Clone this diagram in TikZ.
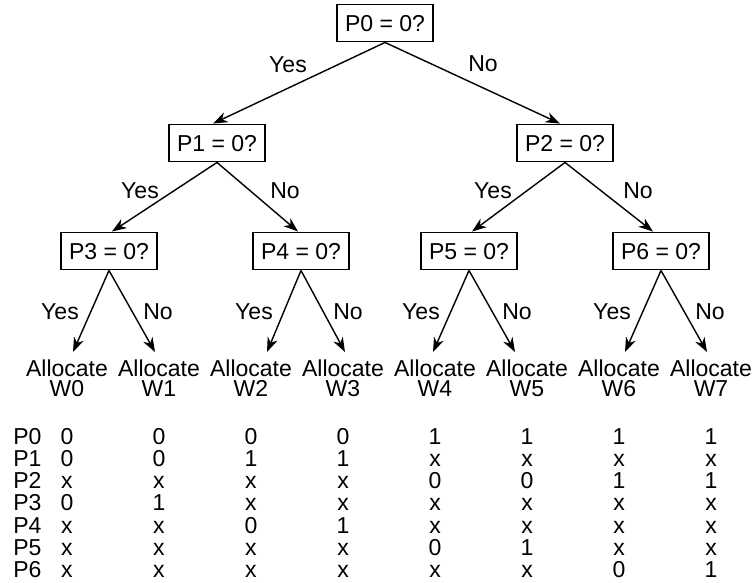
\documentclass[tikz,border=0pt]{standalone}
\usepackage{fontspec}
\setmainfont{Liberation Sans}
\usetikzlibrary{arrows.meta}
\tikzset{
  test/.style={draw=black,line width=1.1pt,minimum width=1.92cm,minimum height=0.74cm,
    inner sep=0pt,text height=0.33cm,text depth=0pt},
  branch/.style={draw=black,line width=0.8pt,-{Stealth[length=0.29cm,width=0.21cm,inset=0.09cm]}},
  leaf/.style={anchor=north,align=center,inner sep=0.14cm,font=\fontsize{13.1}{11.9}\selectfont},
  ans/.style={midway,inner sep=0pt,text height=0.33cm,text depth=0pt},
}
\tikzset{cell/.style={inner sep=0pt,text height=0.33cm,text depth=0pt}, rowlab/.style={cell,anchor=west}}

\begin{document}
\begin{tikzpicture}[x=0.02cm,y=-0.02cm,font=\fontsize{13.1}{15}\selectfont]
\useasboundingbox (0,0) rectangle (753,582);
% decision boxes
\node[test] (p0) at (385,23) {P0 = 0?};
\node[test] (p1) at (217,143) {P1 = 0?};
\node[test] (p2) at (565,143) {P2 = 0?};
\node[test] (p3) at (109,251) {P3 = 0?};
\node[test] (p4) at (301,251) {P4 = 0?};
\node[test] (p5) at (469,251) {P5 = 0?};
\node[test] (p6) at (661,251) {P6 = 0?};
% leaves
\foreach \k in {0,...,7}
  \node[leaf] (w\k) at (67+92*\k,352) {Allocate\\W\k};
% branches
\draw[branch] (p0.south) -- node[ans,xshift=-0.22cm,yshift=0.38cm] {Yes} ([xshift=-0.08cm]p1.north);
\draw[branch] (p0.south) -- node[ans,xshift=0.21cm,yshift=0.4cm] {No} ([xshift=-0.1cm]p2.north);
\draw[branch] (p1.south) -- node[ans,xshift=-0.49cm,yshift=0.14cm] {Yes} ([xshift=0.06cm]p3.north);
\draw[branch] (p1.south) -- node[ans,xshift=0.55cm,yshift=0.14cm] {No} ([xshift=-0.06cm]p4.north);
\draw[branch] (p2.south) -- node[ans,xshift=-0.51cm,yshift=0.14cm] {Yes} ([xshift=0.06cm]p5.north);
\draw[branch] (p2.south) -- node[ans,xshift=0.58cm,yshift=0.14cm] {No} ([xshift=-0.16cm]p6.north);
\draw[branch] (p3.south) -- node[ans,xshift=-0.62cm] {Yes} ([xshift=0.12cm]w0.north);
\draw[branch] (p3.south) -- node[ans,xshift=0.52cm] {No} ([xshift=-0.08cm]w1.north);
\draw[branch] (p4.south) -- node[ans,xshift=-0.6cm] {Yes} ([xshift=0.32cm]w2.north);
\draw[branch] (p4.south) -- node[ans,xshift=0.5cm] {No} ([xshift=0.04cm]w3.north);
\draw[branch] (p5.south) -- node[ans,xshift=-0.6cm] {Yes} ([xshift=-0.04cm]w4.north);
\draw[branch] (p5.south) -- node[ans,xshift=0.5cm] {No} ([xshift=-0.24cm]w5.north);
\draw[branch] (p6.south) -- node[ans,xshift=-0.62cm] {Yes} ([xshift=0.12cm]w6.north);
\draw[branch] (p6.south) -- node[ans,xshift=0.52cm] {No} ([xshift=-0.08cm]w7.north);
% truth table
\foreach \vals [count=\r from 0] in {{0,0,0,0,1,1,1,1},{0,0,1,1,x,x,x,x},{x,x,x,x,0,0,1,1},
    {0,1,x,x,x,x,x,x},{x,x,0,1,x,x,x,x},{x,x,x,x,0,1,x,x},{x,x,x,x,x,x,0,1}}{
  \node[rowlab] (r\r) at (13,436+22.2*\r) {P\r};
  \foreach \v [count=\c from 0] in \vals
    \node[cell] (t\r\c) at (67+92*\c,436+22.2*\r) {\v};
}
\end{tikzpicture}
\end{document}
